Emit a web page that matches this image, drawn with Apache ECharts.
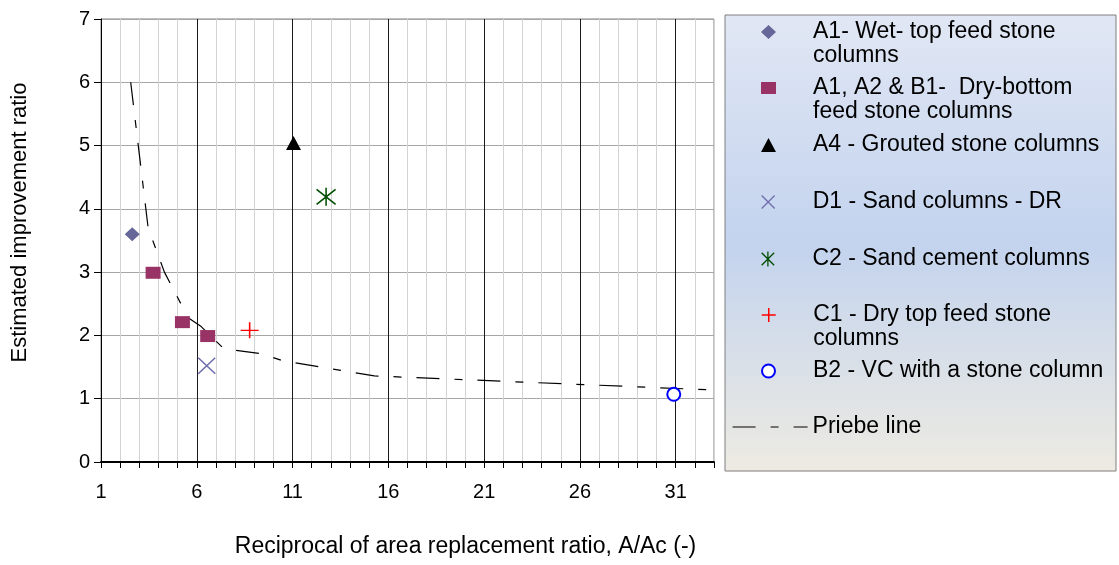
<!DOCTYPE html>
<html>
<head>
<meta charset="utf-8">
<script src="https://cdn.jsdelivr.net/npm/echarts@6/dist/echarts.min.js"></script>
<style>
html, body { margin: 0; padding: 0; background: #fff; }
#main { width: 1119px; height: 565px; }
</style>
</head>
<body>
<div id="main"></div>
<script>
var font = 'Liberation Sans, Arial, sans-serif';

// tick labels shown on the x axis (ticks every 1)
var xTickLabels = [1, 6, 11, 16, 21, 26, 31];

// series values [A/Ac, improvement ratio]
var wetTopFeed = [[2.63, 3.6]];
var dryBottomFeed = [[3.72, 2.99], [5.25, 2.21], [6.57, 1.99]];
var groutedStone = [[11.05, 5.04]];
var sandColumnsDR = [[6.52, 1.52]];
var sandCement = [[12.75, 4.19]];
var dryTopFeed = [[8.76, 2.08]];
var vcStone = [[30.9, 1.07]];
var priebeLine = [[2.55, 6.0], [3.46, 3.7], [4.31, 3.0], [5.55, 2.28], [6.23, 2.14],
                  [7.41, 1.79], [9.39, 1.71], [10.48, 1.6], [15.27, 1.36], [32.8, 1.14]];

var names = [
  'A1- Wet- top feed stone\ncolumns',
  'A1, A2 & B1-  Dry-bottom\nfeed stone columns',
  'A4 - Grouted stone columns',
  'D1 - Sand columns - DR',
  'C2 - Sand cement columns',
  'C1 - Dry top feed stone\ncolumns',
  'B2 - VC with a stone column',
  'Priebe line'
];

var dash = [23, 15, 8, 15];
var crossPath = 'path://M0,0L10,10M10,0L0,10';
var starPath = 'path://M0,0L10,10M10,0L0,10M5,-1L5,11';
var plusPath = 'path://M5,0L5,10M0,5L10,5';

// legend rows: vertical centre of each symbol in the box
var rowY = [32, 88, 145, 202, 259, 315, 371, 427];

function legendFor(i, iconH, extra) {
  var twoLine = names[i].indexOf('\n') >= 0;
  var isLine = i === 7;
  var lg = {
    data: [names[i]],
    orient: 'vertical',
    left: isLine ? 732 : 761,
    top: rowY[i] - (twoLine ? 36 : 12),
    padding: 0,
    itemWidth: isLine ? 75 : 15,
    itemHeight: iconH,
    z: 5,
    // blank first line so the symbol sits level with the first text line
    formatter: function (n) { return twoLine ? ' \n' + n : n; },
    textStyle: {
      fontFamily: font, fontSize: 23, color: '#000', lineHeight: 24,
      padding: [0, 0, 0, isLine ? 0 : 32]
    }
  };
  if (extra) Object.keys(extra).forEach(function (k) { lg[k] = extra[k]; });
  return lg;
}

var chart = echarts.init(document.getElementById('main'));

chart.setOption({
  animation: false,
  backgroundColor: '#fff',
  grid: {
    left: 101, right: 405, top: 19, bottom: 103,
    show: true, borderColor: '#808080', borderWidth: 1, backgroundColor: '#fff'
  },
  graphic: [{
    type: 'rect',
    z: 0,
    shape: { x: 725, y: 15, width: 391, height: 456 },
    style: {
      stroke: '#7f7f7f', lineWidth: 1,
      fill: {
        type: 'linear', x: 0, y: 0, x2: 0, y2: 1,
        colorStops: [
          { offset: 0, color: '#e1e7f4' },
          { offset: 0.5, color: '#c3d3ee' },
          { offset: 1, color: '#edebe2' }
        ]
      }
    }
  }],
  legend: [
    legendFor(0, 14),
    legendFor(1, 12),
    legendFor(2, 14),
    legendFor(3, 13, { itemStyle: { borderWidth: 1.3 } }),
    legendFor(4, 15, { itemStyle: { borderWidth: 1.3 } }),
    legendFor(5, 14, { itemStyle: { borderWidth: 1.5 } }),
    legendFor(6, 13, { itemStyle: { borderWidth: 2 } }),
    legendFor(7, 14, {
      itemStyle: { color: 'rgba(0,0,0,0)', borderWidth: 0 },
      lineStyle: { width: 1.2, type: dash, color: '#000' }
    })
  ],
  xAxis: {
    type: 'value',
    min: 1, max: 33, interval: 1,
    name: 'Reciprocal of area replacement ratio, A/Ac (-)',
    nameLocation: 'middle',
    nameGap: 73,
    nameTextStyle: { fontFamily: font, fontSize: 23, color: '#000', padding: [0, 0, 0, 116] },
    axisLine: { show: true, onZero: false, lineStyle: { color: '#000', width: 2 } },
    axisTick: { show: true, length: 6, lineStyle: { color: '#000' } },
    axisLabel: {
      margin: 20, fontFamily: font, fontSize: 20, color: '#000',
      formatter: function (v) { return xTickLabels.indexOf(v) >= 0 ? String(v) : ''; }
    },
    splitLine: {
      show: true,
      lineStyle: { width: 1, color: ['#1a1a1a', '#d3d3d3', '#d3d3d3', '#d3d3d3', '#d3d3d3'] }
    }
  },
  yAxis: {
    type: 'value',
    min: 0, max: 7, interval: 1,
    name: 'Estimated improvement ratio',
    nameLocation: 'middle',
    nameGap: 70,
    nameTextStyle: { fontFamily: font, fontSize: 22, color: '#000', padding: [0, 0, 0, 36] },
    axisLine: { show: true, onZero: false, lineStyle: { color: '#000', width: 1 } },
    axisTick: { show: true, length: 7, lineStyle: { color: '#000' } },
    axisLabel: { margin: 11, fontFamily: font, fontSize: 20, color: '#000' },
    splitLine: { show: true, lineStyle: { color: '#a6a6a6', width: 1 } }
  },
  series: [
    {
      name: names[0], type: 'scatter', z: 3, data: wetTopFeed,
      symbol: 'diamond', symbolSize: [15, 14],
      itemStyle: { color: '#666699', opacity: 1 }
    },
    {
      name: names[1], type: 'scatter', z: 3, data: dryBottomFeed,
      symbol: 'rect', symbolSize: [15, 12],
      itemStyle: { color: '#993366', opacity: 1 }
    },
    {
      name: names[2], type: 'scatter', z: 3, data: groutedStone,
      symbol: 'triangle', symbolSize: [15, 14],
      itemStyle: { color: '#000', opacity: 1 }
    },
    {
      name: names[3], type: 'scatter', z: 3, data: sandColumnsDR,
      symbol: crossPath, symbolSize: [17, 16],
      itemStyle: { color: '#6f6fae', borderColor: '#6f6fae', borderWidth: 1.5, opacity: 1 }
    },
    {
      name: names[4], type: 'scatter', z: 3, data: sandCement,
      symbol: starPath, symbolSize: [19, 18],
      itemStyle: { color: '#004d00', borderColor: '#004d00', borderWidth: 1.5, opacity: 1 }
    },
    {
      name: names[5], type: 'scatter', z: 3, data: dryTopFeed,
      symbol: plusPath, symbolSize: [18, 16],
      itemStyle: { color: '#ff0000', borderColor: '#ff0000', borderWidth: 1.5, opacity: 1 }
    },
    {
      name: names[6], type: 'scatter', z: 3, data: vcStone,
      symbol: 'emptyCircle', symbolSize: 13,
      itemStyle: { color: '#0000ff', borderColor: '#0000ff', borderWidth: 2, opacity: 1 }
    },
    {
      name: names[7], type: 'line', z: 2, data: priebeLine,
      symbol: 'none', showSymbol: false,
      lineStyle: { color: '#000', width: 1.2, type: dash }
    }
  ]
});
</script>
</body>
</html>
